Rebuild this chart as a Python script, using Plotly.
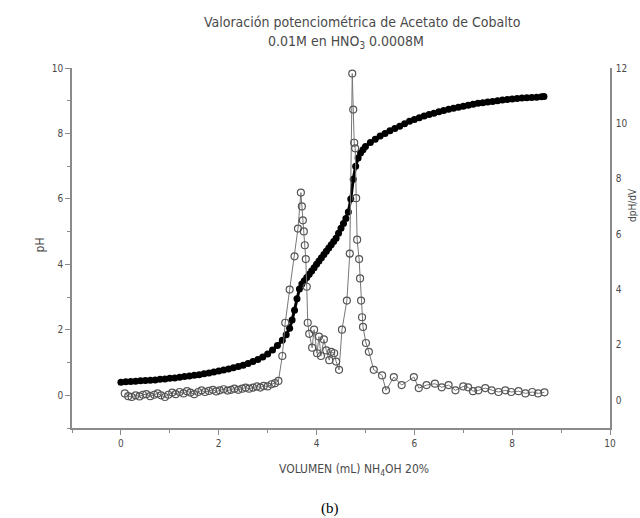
import plotly.graph_objects as go

# pH curve (filled markers)
vol_ph = [0.0, 0.1, 0.2, 0.3, 0.4, 0.5, 0.6, 0.7, 0.8, 0.9, 1.0, 1.1, 1.2, 1.3, 1.4, 1.5,
          1.6, 1.7, 1.8, 1.9, 2.0, 2.1, 2.2, 2.3, 2.4, 2.5, 2.6, 2.7, 2.8, 2.9, 3.0, 3.1,
          3.2, 3.3, 3.38, 3.45, 3.5, 3.55, 3.6, 3.65, 3.7, 3.75, 3.8, 3.85, 3.9, 3.95, 4.0,
          4.05, 4.1, 4.15, 4.2, 4.25, 4.3, 4.35, 4.4, 4.45, 4.5, 4.55, 4.6, 4.65, 4.7, 4.75,
          4.8, 4.85, 4.9, 4.95, 5.0, 5.1, 5.2, 5.3, 5.4, 5.5, 5.6, 5.7, 5.8, 5.9, 6.0, 6.1,
          6.2, 6.3, 6.4, 6.5, 6.6, 6.7, 6.8, 6.9, 7.0, 7.1, 7.2, 7.3, 7.4, 7.5, 7.6, 7.7,
          7.8, 7.9, 8.0, 8.1, 8.2, 8.3, 8.4, 8.5, 8.6, 8.65]
ph = [0.40, 0.41, 0.42, 0.43, 0.44, 0.45, 0.46, 0.47, 0.49, 0.50, 0.52, 0.53, 0.55, 0.57, 0.59, 0.61,
      0.63, 0.66, 0.68, 0.71, 0.74, 0.77, 0.80, 0.84, 0.88, 0.92, 0.97, 1.03, 1.09, 1.17, 1.26, 1.38,
      1.52, 1.68, 1.85, 2.05, 2.30, 2.60, 2.95, 3.25, 3.40, 3.50, 3.60, 3.70, 3.80, 3.90, 4.00,
      4.10, 4.20, 4.30, 4.40, 4.50, 4.60, 4.70, 4.80, 4.95, 5.10, 5.25, 5.40, 5.60, 6.00, 6.60,
      7.00, 7.25, 7.40, 7.50, 7.60, 7.72, 7.82, 7.92, 8.00, 8.08, 8.15, 8.22, 8.30, 8.37, 8.43, 8.48,
      8.53, 8.58, 8.62, 8.66, 8.70, 8.74, 8.77, 8.80, 8.83, 8.86, 8.89, 8.92, 8.94, 8.96, 8.98, 9.00,
      9.02, 9.04, 9.05, 9.07, 9.08, 9.09, 9.10, 9.11, 9.12, 9.13]

# first derivative dpH/dV (open markers, right axis)
vol_d = [0.08, 0.15, 0.22, 0.3, 0.38, 0.45, 0.52, 0.6, 0.68, 0.75, 0.82, 0.9, 0.97, 1.05,
         1.12, 1.2, 1.28, 1.35, 1.42, 1.5, 1.58, 1.65, 1.72, 1.8, 1.88, 1.95, 2.02, 2.1,
         2.18, 2.25, 2.32, 2.4, 2.48, 2.55, 2.62, 2.7, 2.78, 2.85, 2.92, 3.0, 3.08, 3.15,
         3.22, 3.3, 3.36, 3.45, 3.55, 3.62, 3.68, 3.7, 3.72, 3.74, 3.76, 3.78, 3.8, 3.82,
         3.85, 3.91, 3.95, 4.01, 4.05, 4.09, 4.15, 4.2, 4.26, 4.3, 4.36, 4.4, 4.46, 4.52,
         4.62, 4.68, 4.73, 4.75, 4.77, 4.79, 4.81, 4.83, 4.87, 4.89, 4.91, 4.93, 4.95, 5.01,
         5.07, 5.17, 5.34, 5.42, 5.58, 5.74, 5.99, 6.09, 6.25, 6.42, 6.56, 6.7, 6.84, 7.0,
         7.1, 7.2, 7.31, 7.45, 7.58, 7.72, 7.86, 7.98, 8.13, 8.27, 8.41, 8.53, 8.66]
dph = [0.25, 0.15, 0.12, 0.18, 0.14, 0.20, 0.22, 0.15, 0.20, 0.25, 0.18, 0.12, 0.20, 0.28,
       0.22, 0.30, 0.25, 0.33, 0.28, 0.22, 0.30, 0.36, 0.30, 0.34, 0.38, 0.32, 0.36, 0.40,
       0.35, 0.38, 0.42, 0.38, 0.42, 0.46, 0.42, 0.46, 0.50, 0.46, 0.52, 0.50, 0.58, 0.62,
       0.70, 1.60, 2.80, 4.00, 5.20, 6.20, 7.50, 7.00, 6.50, 6.10, 5.60, 5.10, 4.10, 2.80,
       2.40, 1.90, 2.55, 1.70, 2.30, 1.60, 2.20, 1.80, 1.45, 1.75, 1.70, 1.40, 1.10, 2.55,
       3.60, 5.30, 11.80, 10.50, 9.30, 9.10, 7.30, 5.80, 5.10, 4.40, 3.60, 3.00, 2.65, 2.07,
       1.75, 1.10, 0.90, 0.36, 0.84, 0.55, 0.84, 0.44, 0.55, 0.60, 0.47, 0.55, 0.36, 0.50,
       0.47, 0.33, 0.36, 0.44, 0.36, 0.30, 0.36, 0.30, 0.33, 0.25, 0.30, 0.25, 0.29]

x_ticks = [0, 2, 4, 6, 8, 10]
y_ticks = [0, 2, 4, 6, 8, 10]
y2_ticks = [0, 2, 4, 6, 8, 10, 12]

FONT = "DejaVu Sans Condensed, Liberation Sans Narrow, Roboto, sans-serif"
AX = "#8a8a8a"
TXT = "#4a4a4a"

fig = go.Figure()
fig.add_trace(go.Scatter(
    x=vol_d, y=dph, yaxis="y2", mode="lines+markers",
    line=dict(color="#777777", width=1),
    marker=dict(symbol="circle-open", size=7, color="#555555", line=dict(width=1.2)),
    showlegend=False))
fig.add_trace(go.Scatter(
    x=vol_ph, y=ph, mode="lines+markers",
    line=dict(color="black", width=3),
    marker=dict(symbol="circle", size=7, color="black"),
    showlegend=False))

fig.update_layout(
    width=640, height=518,
    margin=dict(l=72, r=30, t=68, b=90),
    paper_bgcolor="white", plot_bgcolor="white",
    font=dict(family=FONT, size=10, color=TXT),
    xaxis=dict(range=[-1, 10], tickvals=x_ticks, ticks="outside", ticklen=5,
               tickcolor=AX, showline=True, linecolor=AX, linewidth=1.5,
               showgrid=False, zeroline=False, automargin=False,
               minor=dict(dtick=1, tick0=1, ticks="outside", ticklen=3, tickcolor=AX)),
    yaxis=dict(range=[-1, 10], tickvals=y_ticks, ticks="outside", ticklen=5,
               tickcolor=AX, showline=True, linecolor=AX, linewidth=1.5,
               showgrid=False, zeroline=False, automargin=False,
               minor=dict(dtick=1, tick0=1, ticks="outside", ticklen=3, tickcolor=AX)),
    yaxis2=dict(range=[-1, 12], tickvals=y2_ticks, overlaying="y", side="right",
                ticks="", showline=True, linecolor=AX, linewidth=1.5,
                showgrid=False, zeroline=False, automargin=False, ticklabelstandoff=2),
)

ann_font = dict(family=FONT, size=12, color=TXT)
fig.add_annotation(x=0.54, y=1.0, xref="paper", yref="paper", yshift=46, yanchor="middle",
                   text="Valoración potenciométrica de Acetato de Cobalto",
                   showarrow=False, font=dict(family=FONT, size=14, color=TXT))
fig.add_annotation(x=0.51, y=1.0, xref="paper", yref="paper", yshift=26, yanchor="middle",
                   text="0.01M en HNO<sub>3</sub> 0.0008M",
                   showarrow=False, font=dict(family=FONT, size=14, color=TXT))
fig.add_annotation(x=0.524, y=0, xref="paper", yref="paper", yshift=-42, yanchor="middle",
                   text="VOLUMEN (mL) NH<sub>4</sub>OH 20%", showarrow=False, font=ann_font)
fig.add_annotation(x=-0.059, y=0.508, xref="paper", yref="paper", textangle=-90,
                   xanchor="center", yanchor="middle",
                   text="pH", showarrow=False, font=ann_font)
fig.add_annotation(x=1.043, y=0.62, xref="paper", yref="paper", textangle=-90,
                   xanchor="center", yanchor="middle",
                   text="dpH/dV", showarrow=False, font=dict(family=FONT, size=10, color=TXT))
fig.add_annotation(x=0.48, y=0, xref="paper", yref="paper", yshift=-80, yanchor="middle",
                   text="(b)", showarrow=False,
                   font=dict(family="Liberation Serif, DejaVu Serif, serif", size=15, color="black"))

fig.write_html("out.html", config={"displayModeBar": False},
               post_script="document.body.style.margin='0px';")
